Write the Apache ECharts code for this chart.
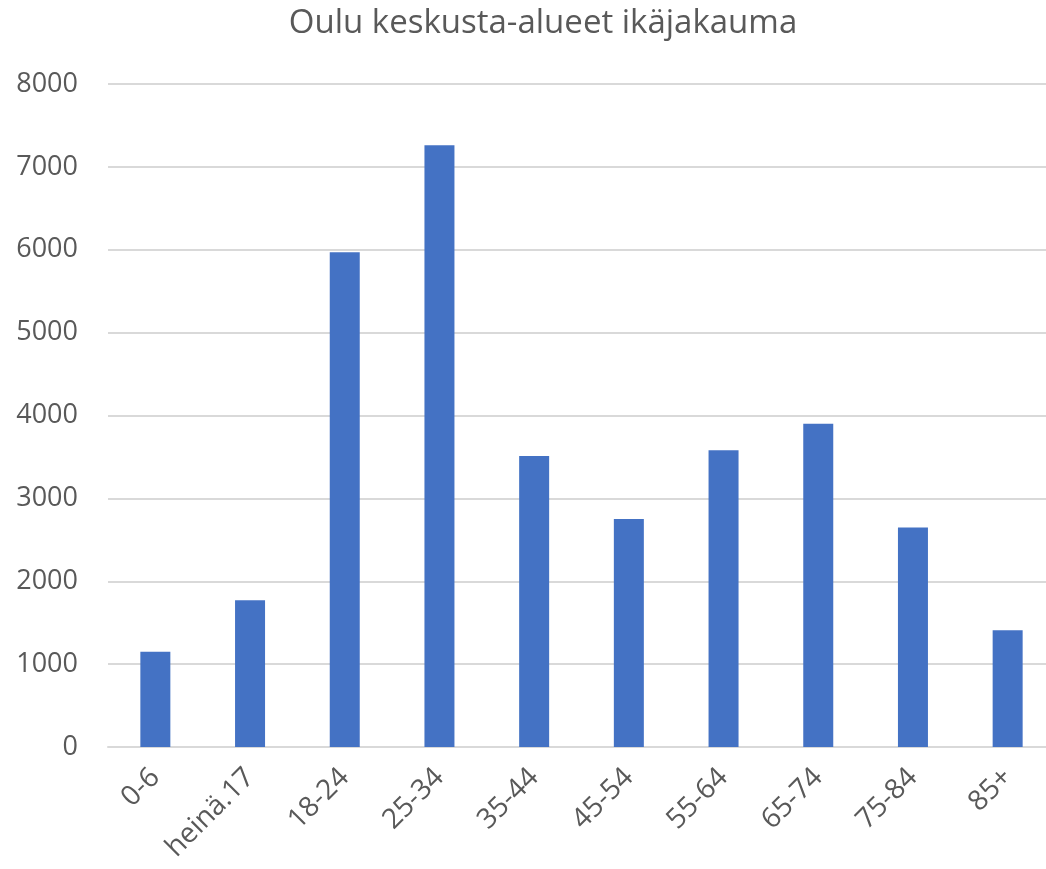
<!DOCTYPE html>
<html>
<head>
<meta charset="utf-8">
<script src="https://cdn.jsdelivr.net/npm/echarts@6/dist/echarts.min.js"></script>
<style>
html, body { margin: 0; padding: 0; background: #fff; overflow: hidden; }
#chart { width: 1062px; height: 869px; }
</style>
</head>
<body>
<div id="chart"></div>
<script>
var categories = ['0-6', 'heinä.17', '18-24', '25-34', '35-44', '45-54', '55-64', '65-74', '75-84', '85+'];
var values = [1150, 1770, 5970, 7260, 3510, 2750, 3580, 3900, 2650, 1410];
var yTicks = [0, 8000, 1000];

var chart = echarts.init(document.getElementById('chart'));
chart.setOption({
	animation: false,
	title: {
		text: 'Oulu keskusta-alueet ikäjakauma',
		left: 538,
		textAlign: 'center',
		top: 2,
		textStyle: {
			fontFamily: 'Open Sans',
			fontSize: 33,
			fontWeight: 'normal',
			color: '#595959'
		}
	},
	grid: {
		left: 108,
		top: 84,
		width: 947,
		height: 663
	},
	xAxis: {
		type: 'category',
		data: categories,
		axisLine: { lineStyle: { color: '#d9d9d9', width: 2 } },
		axisTick: { show: false },
		axisLabel: {
			rotate: 45,
			interval: 0,
			margin: 26,
			fontFamily: 'Open Sans',
			fontSize: 28,
			color: '#595959'
		}
	},
	yAxis: {
		type: 'value',
		min: yTicks[0],
		max: yTicks[1],
		interval: yTicks[2],
		axisLine: { show: false },
		axisTick: { show: false },
		splitLine: { lineStyle: { color: '#d9d9d9', width: 2 } },
		axisLabel: {
			margin: 30,
			fontFamily: 'Open Sans',
			fontSize: 27,
			color: '#595959',
			formatter: function (v) { return String(v); }
		}
	},
	series: [{
		type: 'bar',
		data: values,
		barWidth: 30,
		itemStyle: { color: '#4472c4' }
	}]
});
</script>
</body>
</html>
